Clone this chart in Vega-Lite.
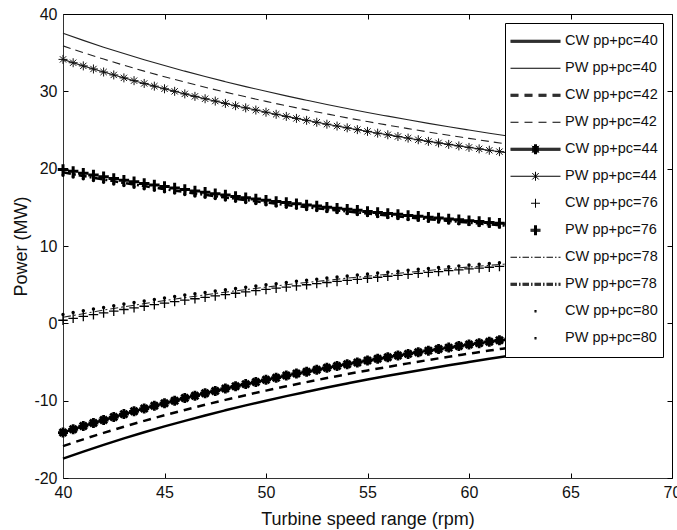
{
"$schema":"https://vega.github.io/schema/vega-lite/v6.json",
"width":609,"height":464,
"autosize":{"type":"none"},
"padding":{"left":63,"top":14,"right":5,"bottom":52},
"background":"white",
"config":{
 "font":"Liberation Sans",
 "view":{"stroke":"#000","strokeWidth":1},
 "axis":{"grid":false,"tickColor":"#000","domainColor":"#333","labelColor":"#111","titleColor":"#111","labelFontSize":16,"titleFontSize":18,"titleFontWeight":"normal","tickSize":-5,"labelPadding":11,"labelFlush":false,"labelExpr":"''+datum.value"}
},
"data":{"values":[
{"s":"PW40","x":40,"y":37.5},{"s":"PW40","x":41,"y":36.59},{"s":"PW40","x":42,"y":35.71},{"s":"PW40","x":43,"y":34.88},{"s":"PW40","x":44,"y":34.09},{"s":"PW40","x":45,"y":33.33},{"s":"PW40","x":46,"y":32.61},{"s":"PW40","x":47,"y":31.91},{"s":"PW40","x":48,"y":31.25},{"s":"PW40","x":49,"y":30.61},{"s":"PW40","x":50,"y":30.0},{"s":"PW40","x":51,"y":29.41},{"s":"PW40","x":52,"y":28.85},{"s":"PW40","x":53,"y":28.3},{"s":"PW40","x":54,"y":27.78},{"s":"PW40","x":55,"y":27.27},{"s":"PW40","x":56,"y":26.79},{"s":"PW40","x":57,"y":26.32},{"s":"PW40","x":58,"y":25.86},{"s":"PW40","x":59,"y":25.42},{"s":"PW40","x":60,"y":25.0},{"s":"PW40","x":61,"y":24.59},{"s":"PW40","x":62,"y":24.19},{"s":"PW40","x":63,"y":23.81},{"s":"PW40","x":64,"y":23.44},{"s":"PW40","x":65,"y":23.08},
{"s":"CW40","x":40,"y":-17.5},{"s":"CW40","x":41,"y":-16.59},{"s":"CW40","x":42,"y":-15.71},{"s":"CW40","x":43,"y":-14.88},{"s":"CW40","x":44,"y":-14.09},{"s":"CW40","x":45,"y":-13.33},{"s":"CW40","x":46,"y":-12.61},{"s":"CW40","x":47,"y":-11.91},{"s":"CW40","x":48,"y":-11.25},{"s":"CW40","x":49,"y":-10.61},{"s":"CW40","x":50,"y":-10.0},{"s":"CW40","x":51,"y":-9.41},{"s":"CW40","x":52,"y":-8.85},{"s":"CW40","x":53,"y":-8.3},{"s":"CW40","x":54,"y":-7.78},{"s":"CW40","x":55,"y":-7.27},{"s":"CW40","x":56,"y":-6.79},{"s":"CW40","x":57,"y":-6.32},{"s":"CW40","x":58,"y":-5.86},{"s":"CW40","x":59,"y":-5.42},{"s":"CW40","x":60,"y":-5.0},{"s":"CW40","x":61,"y":-4.59},{"s":"CW40","x":62,"y":-4.19},{"s":"CW40","x":63,"y":-3.81},{"s":"CW40","x":64,"y":-3.44},{"s":"CW40","x":65,"y":-3.08},
{"s":"PW42","x":40,"y":35.88},{"s":"PW42","x":41,"y":35.0},{"s":"PW42","x":42,"y":34.17},{"s":"PW42","x":43,"y":33.37},{"s":"PW42","x":44,"y":32.61},{"s":"PW42","x":45,"y":31.89},{"s":"PW42","x":46,"y":31.2},{"s":"PW42","x":47,"y":30.53},{"s":"PW42","x":48,"y":29.9},{"s":"PW42","x":49,"y":29.29},{"s":"PW42","x":50,"y":28.7},{"s":"PW42","x":51,"y":28.14},{"s":"PW42","x":52,"y":27.6},{"s":"PW42","x":53,"y":27.08},{"s":"PW42","x":54,"y":26.57},{"s":"PW42","x":55,"y":26.09},{"s":"PW42","x":56,"y":25.63},{"s":"PW42","x":57,"y":25.18},{"s":"PW42","x":58,"y":24.74},{"s":"PW42","x":59,"y":24.32},{"s":"PW42","x":60,"y":23.92},{"s":"PW42","x":61,"y":23.52},{"s":"PW42","x":62,"y":23.15},{"s":"PW42","x":63,"y":22.78},{"s":"PW42","x":64,"y":22.42},{"s":"PW42","x":65,"y":22.08},
{"s":"CW42","x":40,"y":-15.88},{"s":"CW42","x":41,"y":-15.0},{"s":"CW42","x":42,"y":-14.17},{"s":"CW42","x":43,"y":-13.37},{"s":"CW42","x":44,"y":-12.61},{"s":"CW42","x":45,"y":-11.89},{"s":"CW42","x":46,"y":-11.2},{"s":"CW42","x":47,"y":-10.53},{"s":"CW42","x":48,"y":-9.9},{"s":"CW42","x":49,"y":-9.29},{"s":"CW42","x":50,"y":-8.7},{"s":"CW42","x":51,"y":-8.14},{"s":"CW42","x":52,"y":-7.6},{"s":"CW42","x":53,"y":-7.08},{"s":"CW42","x":54,"y":-6.57},{"s":"CW42","x":55,"y":-6.09},{"s":"CW42","x":56,"y":-5.63},{"s":"CW42","x":57,"y":-5.18},{"s":"CW42","x":58,"y":-4.74},{"s":"CW42","x":59,"y":-4.32},{"s":"CW42","x":60,"y":-3.92},{"s":"CW42","x":61,"y":-3.52},{"s":"CW42","x":62,"y":-3.15},{"s":"CW42","x":63,"y":-2.78},{"s":"CW42","x":64,"y":-2.42},{"s":"CW42","x":65,"y":-2.08},
{"s":"PW78","x":40,"y":19.53},{"s":"PW78","x":41,"y":19.05},{"s":"PW78","x":42,"y":18.6},{"s":"PW78","x":43,"y":18.16},{"s":"PW78","x":44,"y":17.75},{"s":"PW78","x":45,"y":17.36},{"s":"PW78","x":46,"y":16.98},{"s":"PW78","x":47,"y":16.62},{"s":"PW78","x":48,"y":16.27},{"s":"PW78","x":49,"y":15.94},{"s":"PW78","x":50,"y":15.62},{"s":"PW78","x":51,"y":15.31},{"s":"PW78","x":52,"y":15.02},{"s":"PW78","x":53,"y":14.74},{"s":"PW78","x":54,"y":14.46},{"s":"PW78","x":55,"y":14.2},{"s":"PW78","x":56,"y":13.95},{"s":"PW78","x":57,"y":13.7},{"s":"PW78","x":58,"y":13.47},{"s":"PW78","x":59,"y":13.24},{"s":"PW78","x":60,"y":13.02},{"s":"PW78","x":61,"y":12.8},{"s":"PW78","x":62,"y":12.6},{"s":"PW78","x":63,"y":12.4},{"s":"PW78","x":64,"y":12.2},{"s":"PW78","x":65,"y":12.02},
{"s":"CW78","x":40,"y":0.78},{"s":"CW78","x":41,"y":1.25},{"s":"CW78","x":42,"y":1.71},{"s":"CW78","x":43,"y":2.14},{"s":"CW78","x":44,"y":2.55},{"s":"CW78","x":45,"y":2.94},{"s":"CW78","x":46,"y":3.32},{"s":"CW78","x":47,"y":3.68},{"s":"CW78","x":48,"y":4.03},{"s":"CW78","x":49,"y":4.36},{"s":"CW78","x":50,"y":4.68},{"s":"CW78","x":51,"y":4.99},{"s":"CW78","x":52,"y":5.28},{"s":"CW78","x":53,"y":5.56},{"s":"CW78","x":54,"y":5.84},{"s":"CW78","x":55,"y":6.1},{"s":"CW78","x":56,"y":6.35},{"s":"CW78","x":57,"y":6.6},{"s":"CW78","x":58,"y":6.84},{"s":"CW78","x":59,"y":7.06},{"s":"CW78","x":60,"y":7.28},{"s":"CW78","x":61,"y":7.5},{"s":"CW78","x":62,"y":7.7},{"s":"CW78","x":63,"y":7.9},{"s":"CW78","x":64,"y":8.1},{"s":"CW78","x":65,"y":8.29},
{"s":"PW44","x":40,"y":34.13},{"s":"PW44","x":40.5,"y":33.7},{"s":"PW44","x":41,"y":33.29},{"s":"PW44","x":41.5,"y":32.89},{"s":"PW44","x":42,"y":32.5},{"s":"PW44","x":42.5,"y":32.12},{"s":"PW44","x":43,"y":31.74},{"s":"PW44","x":43.5,"y":31.38},{"s":"PW44","x":44,"y":31.02},{"s":"PW44","x":44.5,"y":30.67},{"s":"PW44","x":45,"y":30.33},{"s":"PW44","x":45.5,"y":30.0},{"s":"PW44","x":46,"y":29.67},{"s":"PW44","x":46.5,"y":29.35},{"s":"PW44","x":47,"y":29.04},{"s":"PW44","x":47.5,"y":28.74},{"s":"PW44","x":48,"y":28.44},{"s":"PW44","x":48.5,"y":28.14},{"s":"PW44","x":49,"y":27.86},{"s":"PW44","x":49.5,"y":27.58},{"s":"PW44","x":50,"y":27.3},{"s":"PW44","x":50.5,"y":27.03},{"s":"PW44","x":51,"y":26.76},{"s":"PW44","x":51.5,"y":26.5},{"s":"PW44","x":52,"y":26.25},{"s":"PW44","x":52.5,"y":26.0},{"s":"PW44","x":53,"y":25.75},{"s":"PW44","x":53.5,"y":25.51},{"s":"PW44","x":54,"y":25.28},{"s":"PW44","x":54.5,"y":25.05},{"s":"PW44","x":55,"y":24.82},{"s":"PW44","x":55.5,"y":24.59},{"s":"PW44","x":56,"y":24.38},{"s":"PW44","x":56.5,"y":24.16},{"s":"PW44","x":57,"y":23.95},{"s":"PW44","x":57.5,"y":23.74},{"s":"PW44","x":58,"y":23.53},{"s":"PW44","x":58.5,"y":23.33},{"s":"PW44","x":59,"y":23.14},{"s":"PW44","x":59.5,"y":22.94},{"s":"PW44","x":60,"y":22.75},{"s":"PW44","x":60.5,"y":22.56},{"s":"PW44","x":61,"y":22.38},{"s":"PW44","x":61.5,"y":22.2},{"s":"PW44","x":62,"y":22.02},{"s":"PW44","x":62.5,"y":21.84},{"s":"PW44","x":63,"y":21.67},{"s":"PW44","x":63.5,"y":21.5},{"s":"PW44","x":64,"y":21.33},{"s":"PW44","x":64.5,"y":21.16},{"s":"PW44","x":65,"y":21.0},
{"s":"CW44","x":40,"y":-14.13},{"s":"CW44","x":40.5,"y":-13.7},{"s":"CW44","x":41,"y":-13.29},{"s":"CW44","x":41.5,"y":-12.89},{"s":"CW44","x":42,"y":-12.5},{"s":"CW44","x":42.5,"y":-12.12},{"s":"CW44","x":43,"y":-11.74},{"s":"CW44","x":43.5,"y":-11.38},{"s":"CW44","x":44,"y":-11.02},{"s":"CW44","x":44.5,"y":-10.67},{"s":"CW44","x":45,"y":-10.33},{"s":"CW44","x":45.5,"y":-10.0},{"s":"CW44","x":46,"y":-9.67},{"s":"CW44","x":46.5,"y":-9.35},{"s":"CW44","x":47,"y":-9.04},{"s":"CW44","x":47.5,"y":-8.74},{"s":"CW44","x":48,"y":-8.44},{"s":"CW44","x":48.5,"y":-8.14},{"s":"CW44","x":49,"y":-7.86},{"s":"CW44","x":49.5,"y":-7.58},{"s":"CW44","x":50,"y":-7.3},{"s":"CW44","x":50.5,"y":-7.03},{"s":"CW44","x":51,"y":-6.76},{"s":"CW44","x":51.5,"y":-6.5},{"s":"CW44","x":52,"y":-6.25},{"s":"CW44","x":52.5,"y":-6.0},{"s":"CW44","x":53,"y":-5.75},{"s":"CW44","x":53.5,"y":-5.51},{"s":"CW44","x":54,"y":-5.28},{"s":"CW44","x":54.5,"y":-5.05},{"s":"CW44","x":55,"y":-4.82},{"s":"CW44","x":55.5,"y":-4.59},{"s":"CW44","x":56,"y":-4.38},{"s":"CW44","x":56.5,"y":-4.16},{"s":"CW44","x":57,"y":-3.95},{"s":"CW44","x":57.5,"y":-3.74},{"s":"CW44","x":58,"y":-3.53},{"s":"CW44","x":58.5,"y":-3.33},{"s":"CW44","x":59,"y":-3.14},{"s":"CW44","x":59.5,"y":-2.94},{"s":"CW44","x":60,"y":-2.75},{"s":"CW44","x":60.5,"y":-2.56},{"s":"CW44","x":61,"y":-2.38},{"s":"CW44","x":61.5,"y":-2.2},{"s":"CW44","x":62,"y":-2.02},{"s":"CW44","x":62.5,"y":-1.84},{"s":"CW44","x":63,"y":-1.67},{"s":"CW44","x":63.5,"y":-1.5},{"s":"CW44","x":64,"y":-1.33},{"s":"CW44","x":64.5,"y":-1.16},{"s":"CW44","x":65,"y":-1.0},
{"s":"PW76","x":40,"y":19.9},{"s":"PW76","x":40.5,"y":19.65},{"s":"PW76","x":41,"y":19.41},{"s":"PW76","x":41.5,"y":19.18},{"s":"PW76","x":42,"y":18.95},{"s":"PW76","x":42.5,"y":18.73},{"s":"PW76","x":43,"y":18.51},{"s":"PW76","x":43.5,"y":18.3},{"s":"PW76","x":44,"y":18.09},{"s":"PW76","x":44.5,"y":17.89},{"s":"PW76","x":45,"y":17.69},{"s":"PW76","x":45.5,"y":17.49},{"s":"PW76","x":46,"y":17.3},{"s":"PW76","x":46.5,"y":17.12},{"s":"PW76","x":47,"y":16.94},{"s":"PW76","x":47.5,"y":16.76},{"s":"PW76","x":48,"y":16.58},{"s":"PW76","x":48.5,"y":16.41},{"s":"PW76","x":49,"y":16.24},{"s":"PW76","x":49.5,"y":16.08},{"s":"PW76","x":50,"y":15.92},{"s":"PW76","x":50.5,"y":15.76},{"s":"PW76","x":51,"y":15.61},{"s":"PW76","x":51.5,"y":15.46},{"s":"PW76","x":52,"y":15.31},{"s":"PW76","x":52.5,"y":15.16},{"s":"PW76","x":53,"y":15.02},{"s":"PW76","x":53.5,"y":14.88},{"s":"PW76","x":54,"y":14.74},{"s":"PW76","x":54.5,"y":14.61},{"s":"PW76","x":55,"y":14.47},{"s":"PW76","x":55.5,"y":14.34},{"s":"PW76","x":56,"y":14.21},{"s":"PW76","x":56.5,"y":14.09},{"s":"PW76","x":57,"y":13.96},{"s":"PW76","x":57.5,"y":13.84},{"s":"PW76","x":58,"y":13.72},{"s":"PW76","x":58.5,"y":13.61},{"s":"PW76","x":59,"y":13.49},{"s":"PW76","x":59.5,"y":13.38},{"s":"PW76","x":60,"y":13.27},{"s":"PW76","x":60.5,"y":13.16},{"s":"PW76","x":61,"y":13.05},{"s":"PW76","x":61.5,"y":12.94},{"s":"PW76","x":62,"y":12.84},{"s":"PW76","x":62.5,"y":12.74},{"s":"PW76","x":63,"y":12.63},{"s":"PW76","x":63.5,"y":12.54},{"s":"PW76","x":64,"y":12.44},{"s":"PW76","x":64.5,"y":12.34},{"s":"PW76","x":65,"y":12.25},
{"s":"CW76","x":40,"y":0.4},{"s":"CW76","x":40.5,"y":0.65},{"s":"CW76","x":41,"y":0.89},{"s":"CW76","x":41.5,"y":1.12},{"s":"CW76","x":42,"y":1.35},{"s":"CW76","x":42.5,"y":1.57},{"s":"CW76","x":43,"y":1.79},{"s":"CW76","x":43.5,"y":2.0},{"s":"CW76","x":44,"y":2.21},{"s":"CW76","x":44.5,"y":2.41},{"s":"CW76","x":45,"y":2.61},{"s":"CW76","x":45.5,"y":2.81},{"s":"CW76","x":46,"y":3.0},{"s":"CW76","x":46.5,"y":3.18},{"s":"CW76","x":47,"y":3.36},{"s":"CW76","x":47.5,"y":3.54},{"s":"CW76","x":48,"y":3.72},{"s":"CW76","x":48.5,"y":3.89},{"s":"CW76","x":49,"y":4.06},{"s":"CW76","x":49.5,"y":4.22},{"s":"CW76","x":50,"y":4.38},{"s":"CW76","x":50.5,"y":4.54},{"s":"CW76","x":51,"y":4.69},{"s":"CW76","x":51.5,"y":4.84},{"s":"CW76","x":52,"y":4.99},{"s":"CW76","x":52.5,"y":5.14},{"s":"CW76","x":53,"y":5.28},{"s":"CW76","x":53.5,"y":5.42},{"s":"CW76","x":54,"y":5.56},{"s":"CW76","x":54.5,"y":5.69},{"s":"CW76","x":55,"y":5.83},{"s":"CW76","x":55.5,"y":5.96},{"s":"CW76","x":56,"y":6.09},{"s":"CW76","x":56.5,"y":6.21},{"s":"CW76","x":57,"y":6.34},{"s":"CW76","x":57.5,"y":6.46},{"s":"CW76","x":58,"y":6.58},{"s":"CW76","x":58.5,"y":6.69},{"s":"CW76","x":59,"y":6.81},{"s":"CW76","x":59.5,"y":6.92},{"s":"CW76","x":60,"y":7.03},{"s":"CW76","x":60.5,"y":7.14},{"s":"CW76","x":61,"y":7.25},{"s":"CW76","x":61.5,"y":7.36},{"s":"CW76","x":62,"y":7.46},{"s":"CW76","x":62.5,"y":7.56},{"s":"CW76","x":63,"y":7.67},{"s":"CW76","x":63.5,"y":7.76},{"s":"CW76","x":64,"y":7.86},{"s":"CW76","x":64.5,"y":7.96},{"s":"CW76","x":65,"y":8.05},
{"s":"PW80","x":40,"y":19.15},{"s":"PW80","x":40.5,"y":18.91},{"s":"PW80","x":41,"y":18.68},{"s":"PW80","x":41.5,"y":18.46},{"s":"PW80","x":42,"y":18.24},{"s":"PW80","x":42.5,"y":18.02},{"s":"PW80","x":43,"y":17.81},{"s":"PW80","x":43.5,"y":17.61},{"s":"PW80","x":44,"y":17.41},{"s":"PW80","x":44.5,"y":17.21},{"s":"PW80","x":45,"y":17.02},{"s":"PW80","x":45.5,"y":16.84},{"s":"PW80","x":46,"y":16.65},{"s":"PW80","x":46.5,"y":16.47},{"s":"PW80","x":47,"y":16.3},{"s":"PW80","x":47.5,"y":16.13},{"s":"PW80","x":48,"y":15.96},{"s":"PW80","x":48.5,"y":15.79},{"s":"PW80","x":49,"y":15.63},{"s":"PW80","x":49.5,"y":15.48},{"s":"PW80","x":50,"y":15.32},{"s":"PW80","x":50.5,"y":15.17},{"s":"PW80","x":51,"y":15.02},{"s":"PW80","x":51.5,"y":14.87},{"s":"PW80","x":52,"y":14.73},{"s":"PW80","x":52.5,"y":14.59},{"s":"PW80","x":53,"y":14.45},{"s":"PW80","x":53.5,"y":14.32},{"s":"PW80","x":54,"y":14.19},{"s":"PW80","x":54.5,"y":14.06},{"s":"PW80","x":55,"y":13.93},{"s":"PW80","x":55.5,"y":13.8},{"s":"PW80","x":56,"y":13.68},{"s":"PW80","x":56.5,"y":13.56},{"s":"PW80","x":57,"y":13.44},{"s":"PW80","x":57.5,"y":13.32},{"s":"PW80","x":58,"y":13.21},{"s":"PW80","x":58.5,"y":13.09},{"s":"PW80","x":59,"y":12.98},{"s":"PW80","x":59.5,"y":12.87},{"s":"PW80","x":60,"y":12.77},{"s":"PW80","x":60.5,"y":12.66},{"s":"PW80","x":61,"y":12.56},{"s":"PW80","x":61.5,"y":12.46},{"s":"PW80","x":62,"y":12.36},{"s":"PW80","x":62.5,"y":12.26},{"s":"PW80","x":63,"y":12.16},{"s":"PW80","x":63.5,"y":12.06},{"s":"PW80","x":64,"y":11.97},{"s":"PW80","x":64.5,"y":11.88},{"s":"PW80","x":65,"y":11.78},
{"s":"CW80","x":40,"y":1.15},{"s":"CW80","x":40.5,"y":1.39},{"s":"CW80","x":41,"y":1.62},{"s":"CW80","x":41.5,"y":1.84},{"s":"CW80","x":42,"y":2.06},{"s":"CW80","x":42.5,"y":2.28},{"s":"CW80","x":43,"y":2.49},{"s":"CW80","x":43.5,"y":2.69},{"s":"CW80","x":44,"y":2.89},{"s":"CW80","x":44.5,"y":3.09},{"s":"CW80","x":45,"y":3.28},{"s":"CW80","x":45.5,"y":3.46},{"s":"CW80","x":46,"y":3.65},{"s":"CW80","x":46.5,"y":3.83},{"s":"CW80","x":47,"y":4.0},{"s":"CW80","x":47.5,"y":4.17},{"s":"CW80","x":48,"y":4.34},{"s":"CW80","x":48.5,"y":4.51},{"s":"CW80","x":49,"y":4.67},{"s":"CW80","x":49.5,"y":4.83},{"s":"CW80","x":50,"y":4.98},{"s":"CW80","x":50.5,"y":5.13},{"s":"CW80","x":51,"y":5.28},{"s":"CW80","x":51.5,"y":5.43},{"s":"CW80","x":52,"y":5.57},{"s":"CW80","x":52.5,"y":5.71},{"s":"CW80","x":53,"y":5.85},{"s":"CW80","x":53.5,"y":5.98},{"s":"CW80","x":54,"y":6.12},{"s":"CW80","x":54.5,"y":6.24},{"s":"CW80","x":55,"y":6.37},{"s":"CW80","x":55.5,"y":6.5},{"s":"CW80","x":56,"y":6.62},{"s":"CW80","x":56.5,"y":6.74},{"s":"CW80","x":57,"y":6.86},{"s":"CW80","x":57.5,"y":6.98},{"s":"CW80","x":58,"y":7.09},{"s":"CW80","x":58.5,"y":7.21},{"s":"CW80","x":59,"y":7.32},{"s":"CW80","x":59.5,"y":7.43},{"s":"CW80","x":60,"y":7.53},{"s":"CW80","x":60.5,"y":7.64},{"s":"CW80","x":61,"y":7.74},{"s":"CW80","x":61.5,"y":7.85},{"s":"CW80","x":62,"y":7.95},{"s":"CW80","x":62.5,"y":8.04},{"s":"CW80","x":63,"y":8.14},{"s":"CW80","x":63.5,"y":8.24},{"s":"CW80","x":64,"y":8.33},{"s":"CW80","x":64.5,"y":8.42},{"s":"CW80","x":65,"y":8.52}
]},
"encoding":{
 "x":{"field":"x","type":"quantitative","scale":{"domain":[40,70],"nice":false,"zero":false},"axis":null},
 "y":{"field":"y","type":"quantitative","scale":{"domain":[-20,40],"nice":false,"zero":false},"axis":null}
},
"resolve":{"axis":{"x":"independent","y":"independent"}},
"layer":[
 {"transform":[{"filter":{"field":"s","oneOf":["CW40","CW44"]}}],
  "mark":{"type":"line","color":"#000","strokeWidth":2.5,"interpolate":"monotone"},
  "encoding":{
   "x":{"field":"x","type":"quantitative","scale":{"domain":[40,70],"nice":false,"zero":false},"axis":{"orient":"bottom","values":[40,45,50,55,60,65,70],"title":"Turbine speed range (rpm)","titlePadding":10}},
   "y":{"field":"y","type":"quantitative","scale":{"domain":[-20,40],"nice":false,"zero":false},"axis":{"orient":"left","values":[-20,-10,0,10,20,30,40],"title":"Power (MW)","titlePadding":3}},
   "detail":{"field":"s"}}},
 {"transform":[{"filter":{"field":"s","oneOf":["PW40","PW44"]}}],
  "mark":{"type":"line","color":"#222","strokeWidth":1.1,"interpolate":"monotone"},
  "encoding":{
   "x":{"field":"x","type":"quantitative","scale":{"domain":[40,70],"nice":false,"zero":false},"axis":{"orient":"top","values":[40,45,50,55,60,65,70],"labels":false,"title":null,"domain":false}},
   "y":{"field":"y","type":"quantitative","scale":{"domain":[-20,40],"nice":false,"zero":false},"axis":{"orient":"right","values":[-20,-10,0,10,20,30,40],"labels":false,"title":null,"domain":false}},
   "detail":{"field":"s"}}},
 {"transform":[{"filter":{"field":"s","equal":"CW42"}}],
  "mark":{"type":"line","color":"#000","strokeWidth":2.5,"strokeDash":[8,6],"interpolate":"monotone"}},
 {"transform":[{"filter":{"field":"s","equal":"PW42"}}],
  "mark":{"type":"line","color":"#222","strokeWidth":1.1,"strokeDash":[8,5],"interpolate":"monotone"}},
 {"transform":[{"filter":{"field":"s","equal":"CW78"}}],
  "mark":{"type":"line","color":"#222","strokeWidth":1.1,"strokeDash":[8,3,2,3],"interpolate":"monotone"}},
 {"transform":[{"filter":{"field":"s","equal":"PW78"}}],
  "mark":{"type":"line","color":"#000","strokeWidth":2.5,"strokeDash":[8,3,2,3],"interpolate":"monotone"}},
 {"transform":[{"filter":{"field":"s","equal":"PW44"}}],
  "mark":{"type":"point","shape":"M0,-1V1M-1,0H1M-0.7,-0.7L0.7,0.7M-0.7,0.7L0.7,-0.7","size":81,"strokeWidth":1,"filled":false,"color":"#111","opacity":1}},
 {"transform":[{"filter":{"field":"s","equal":"CW44"}}],
  "mark":{"type":"point","shape":"M0,-1V1M-1,0H1M-0.7,-0.7L0.7,0.7M-0.7,0.7L0.7,-0.7","size":100,"strokeWidth":2.8,"filled":false,"color":"#000","opacity":1}},
 {"transform":[{"filter":{"field":"s","equal":"CW76"}}],
  "mark":{"type":"point","shape":"M0,-1V1M-1,0H1","size":90,"strokeWidth":1.3,"filled":false,"color":"#000","opacity":1}},
 {"transform":[{"filter":{"field":"s","equal":"PW76"}}],
  "mark":{"type":"point","shape":"M0,-1V1M-1,0H1","size":110,"strokeWidth":3,"filled":false,"color":"#000","opacity":1}},
 {"transform":[{"filter":{"field":"s","oneOf":["CW80","PW80"]}}],
  "mark":{"type":"point","shape":"circle","size":12,"filled":true,"color":"#000","opacity":1}},
 {"mark":{"type":"point","filled":false,"color":"#000","opacity":0,"size":2500},
  "encoding":{
   "shape":{"field":"s","type":"nominal",
    "scale":{"domain":["CW40","PW40","CW42","PW42","CW44","PW44","CW76","PW76","CW78","PW78","CW80","PW80"],
     "range":[
      "M-1,-0.04H1M-1,0H1M-1,0.04H1",
      "M-1,0H1",
      "M-1,-0.04H-0.68M-1,0H-0.68M-1,0.04H-0.68M-0.44,-0.04H-0.12M-0.44,0H-0.12M-0.44,0.04H-0.12M0.12,-0.04H0.44M0.12,0H0.44M0.12,0.04H0.44M0.68,-0.04H1M0.68,0H1M0.68,0.04H1",
      "M-1,0H-0.68M-0.44,0H-0.12M0.12,0H0.44M0.68,0H1",
      "M-1,-0.04H1M-1,0H1M-1,0.04H1M0,-0.2V0.2M0.04,-0.2V0.2M-0.04,-0.2V0.2M-0.14,-0.14L0.14,0.14M-0.14,0.14L0.14,-0.14M-0.03,-0.03H0.03V0.03H-0.03ZM-0.07,-0.07H0.07V0.07H-0.07ZM-0.11,-0.11H0.11V0.11H-0.11Z",
      "M-1,0H1M0,-0.18V0.18M-0.13,-0.13L0.13,0.13M-0.13,0.13L0.13,-0.13",
      "M-0.18,0H0.18M0,-0.18V0.18",
      "M-0.2,-0.04H0.2M-0.2,0H0.2M-0.2,0.04H0.2M-0.04,-0.2V0.2M0,-0.2V0.2M0.04,-0.2V0.2",
      "M-1,0H-0.74M-0.66,0H-0.6M-0.52,0H-0.26M-0.18,0H-0.12M-0.04,0H0.22M0.3,0H0.36M0.44,0H0.7M0.78,0H0.84M0.92,0H1",
      "M-1,-0.04H-0.74M-1,0H-0.74M-1,0.04H-0.74M-0.66,-0.04H-0.6M-0.66,0H-0.6M-0.66,0.04H-0.6M-0.52,-0.04H-0.26M-0.52,0H-0.26M-0.52,0.04H-0.26M-0.18,-0.04H-0.12M-0.18,0H-0.12M-0.18,0.04H-0.12M-0.04,-0.04H0.22M-0.04,0H0.22M-0.04,0.04H0.22M0.3,-0.04H0.36M0.3,0H0.36M0.3,0.04H0.36M0.44,-0.04H0.7M0.44,0H0.7M0.44,0.04H0.7M0.78,-0.04H0.84M0.78,0H0.84M0.78,0.04H0.84M0.92,-0.04H1M0.92,0H1M0.92,0.04H1",
      "M-0.04,-0.03H0.04M-0.04,0H0.04M-0.04,0.03H0.04",
      "M-0.04,-0.03H0.04M-0.04,0H0.04M-0.04,0.03H0.04"
     ]},
    "legend":{"orient":"none","legendX":442,"legendY":9,"title":null,"symbolSize":2500,"symbolStrokeWidth":1,"symbolOpacity":1,"symbolStrokeColor":"#000","symbolFillColor":"transparent","clipHeight":26.5,"rowPadding":0,"padding":5,"labelOffset":4,"labelFontSize":14.5,"labelColor":"#111","strokeColor":"#000","fillColor":"#fff","symbolOffset":0,
     "labelExpr":"slice(datum.label,0,2)+' pp+pc='+slice(datum.label,2)"}}}}
]
}
